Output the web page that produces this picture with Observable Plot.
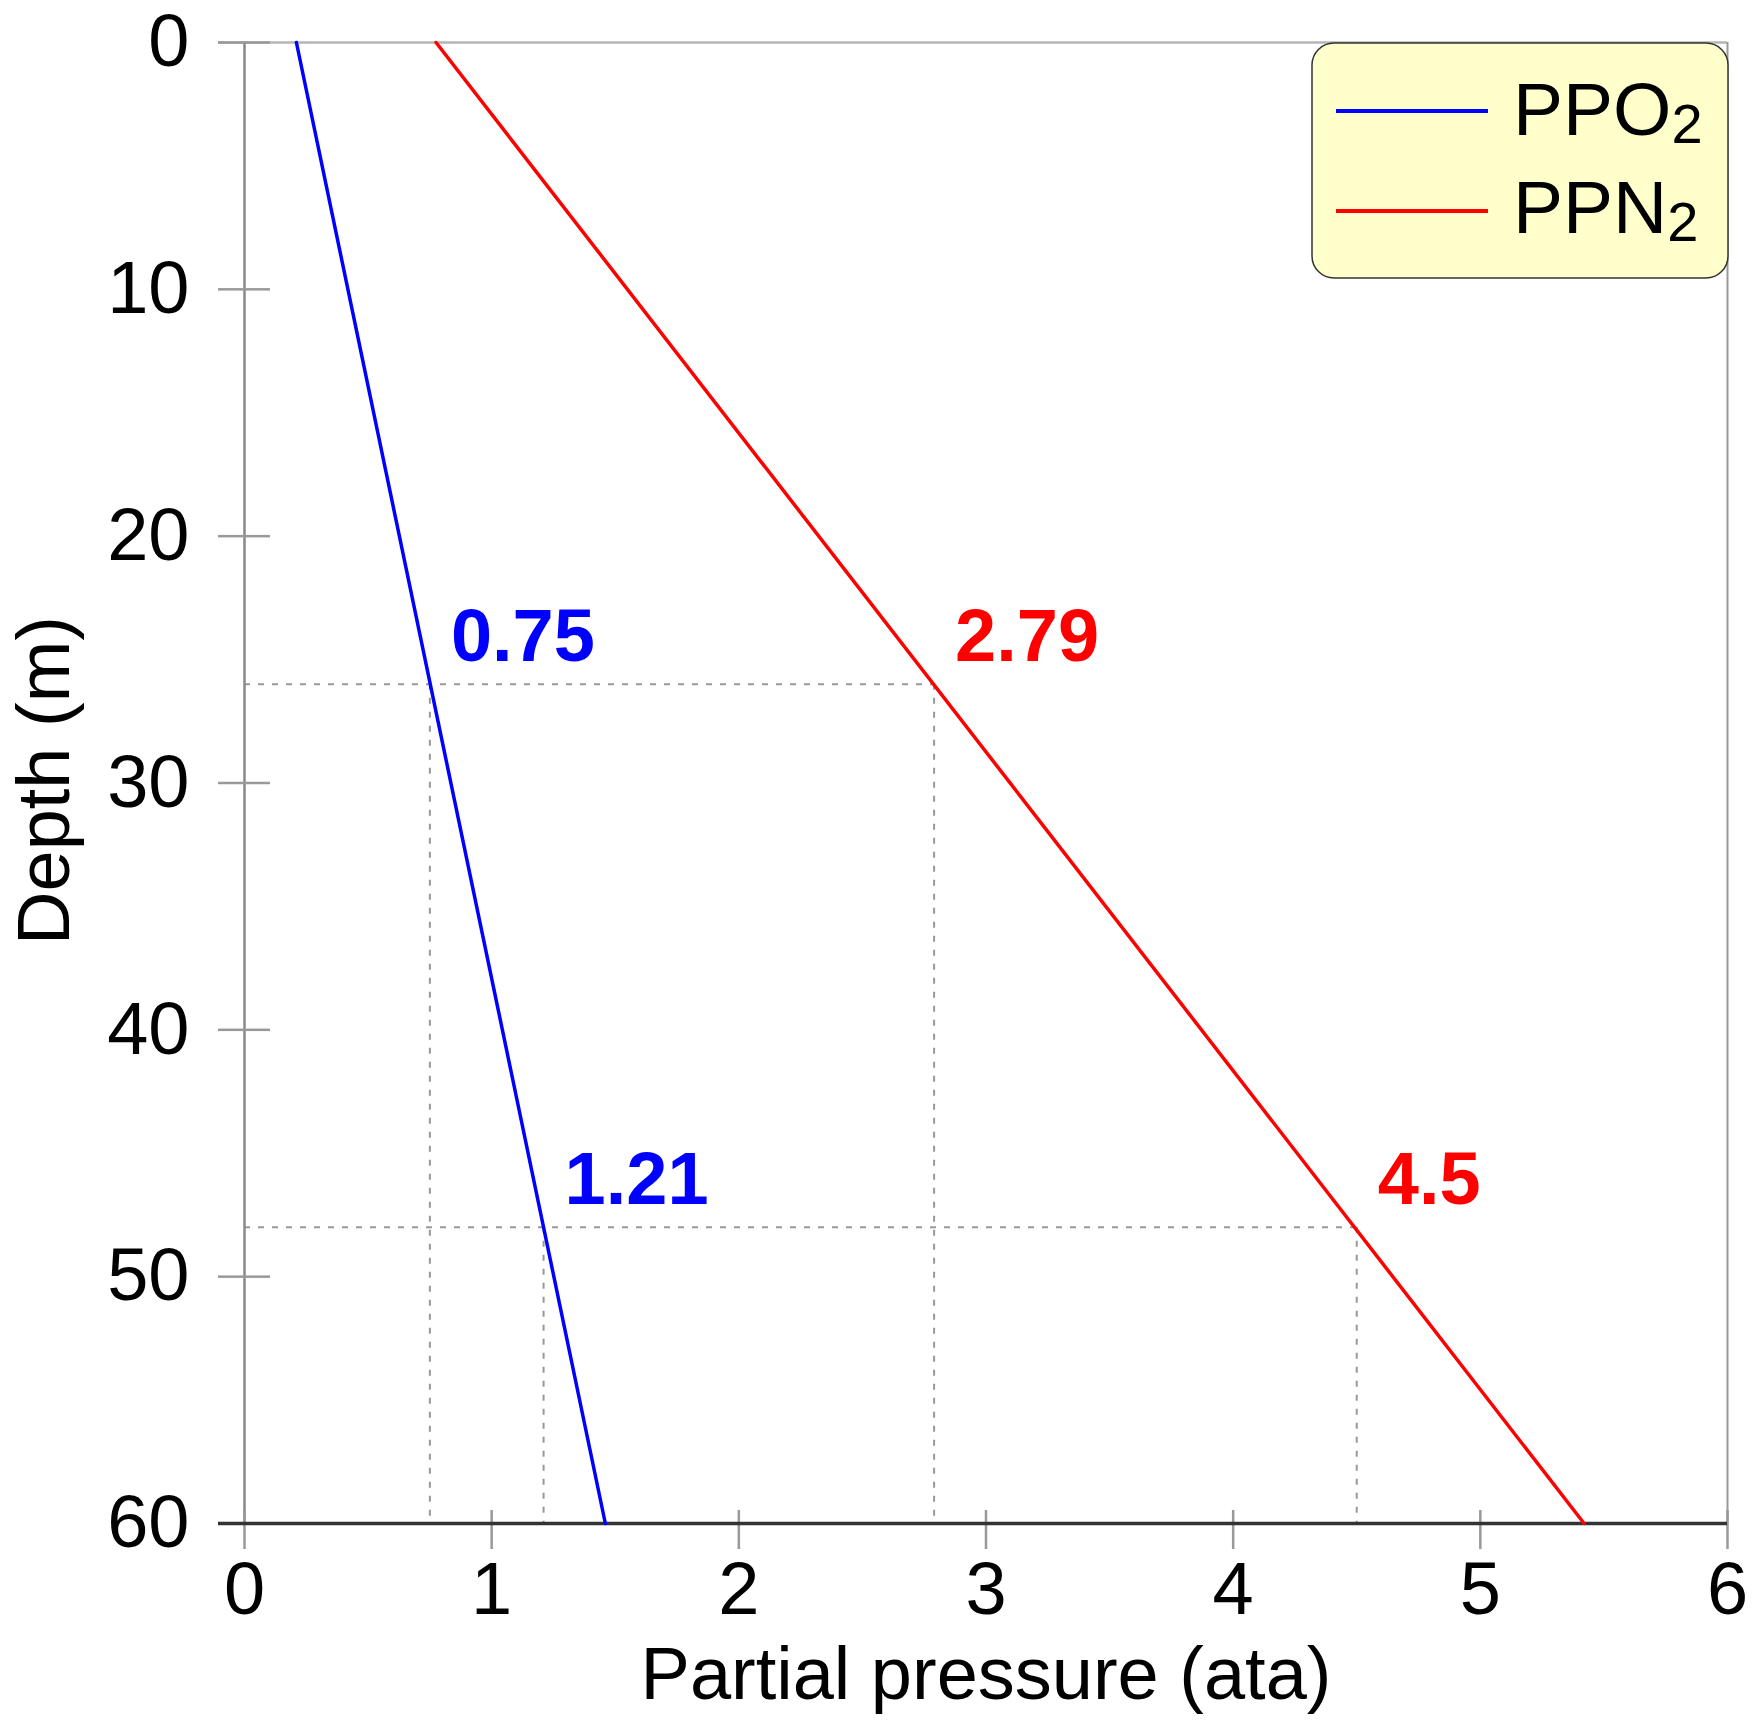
<!DOCTYPE html>
<html>
<head>
<meta charset="utf-8">
<script src="https://cdn.jsdelivr.net/npm/d3@7"></script>
<script src="https://cdn.jsdelivr.net/npm/@observablehq/plot@0.6"></script>
<style>
  html, body { margin: 0; padding: 0; background: white; }
  #wrap { position: relative; width: 1762px; height: 1730px; }
  #legend { position: absolute; left: 1311px; top: 42px; }
</style>
</head>
<body>
<div id="wrap"></div>
<script>
// ---- data ----
const depthEnds = [0, 60];          // m
const ppo2Ends = [0.21, 1.46];      // ata
const ppn2Ends = [0.775, 5.42];     // ata
const markDepths = [26, 48];        // m
const markO2 = [0.75, 1.21];
const markN2 = [2.79, 4.5];
const markO2Text = ["0.75", "1.21"];
const markN2Text = ["2.79", "4.5"];
const xTicks = [0, 1, 2, 3, 4, 5, 6];
const yTicks = [0, 10, 20, 30, 40, 50, 60];
const seriesNames = ["PPO", "PPN"];
const seriesColors = ["#0000ff", "#ff0000"];

const W = 1762, H = 1730;
const mL = 244, mR = 35, mT = 42, mB = 207;
const frameW = W - mL - mR, frameH = H - mT - mB;
const font = "'Liberation Sans', Arial, Helvetica, sans-serif";

const o2 = depthEnds.map((d, i) => ({depth: d, value: ppo2Ends[i]}));
const n2 = depthEnds.map((d, i) => ({depth: d, value: ppn2Ends[i]}));
const guides = markDepths.map((d, i) => ({depth: d, o2: markO2[i], n2: markN2[i]}));
const vGuides = [
  ...markDepths.map((d, i) => ({depth: d, x: markO2[i]})),
  ...markDepths.map((d, i) => ({depth: d, x: markN2[i]}))
];
const labels = [
  ...markDepths.map((d, i) => ({depth: d, x: markO2[i], text: markO2Text[i], color: seriesColors[0]})),
  ...markDepths.map((d, i) => ({depth: d, x: markN2[i], text: markN2Text[i], color: seriesColors[1]}))
];

const dash = {stroke: "#999", strokeWidth: 2, strokeDasharray: "6,8"};

const chart = Plot.plot({
  width: W,
  height: H,
  marginLeft: mL,
  marginRight: mR,
  marginTop: mT,
  marginBottom: mB,
  style: {fontFamily: font, background: "white", color: "black", overflow: "visible"},
  x: {domain: [0, 6]},
  y: {domain: [0, 60], reverse: true},
  marks: [
    // dashed guides
    Plot.ruleY(guides, {y: "depth", x1: 0, x2: "n2", ...dash}),
    Plot.ruleX(vGuides, {x: "x", y1: "depth", y2: 60, ...dash}),
    // frame lines
    Plot.ruleY([0], {stroke: "#b5b5b5", strokeWidth: 2.5, insetLeft: -26}),
    Plot.ruleX([6], {stroke: "#999", strokeWidth: 2}),
    Plot.ruleX([0], {stroke: "#888", strokeWidth: 2.5}),
    // inside tick parts
    Plot.tickX(xTicks, {x: d => d, insetTop: frameH - 13, stroke: "#999", strokeWidth: 2.5}),
    Plot.tickY(yTicks, {y: d => d, insetRight: frameW - 26, stroke: "#999", strokeWidth: 2.5}),
    // axes
    Plot.axisX({ticks: xTicks, tickSize: 26, tickPadding: 11.5, fontSize: 74, stroke: "#999", strokeWidth: 2.5, fill: "black", label: null, tickFormat: d => String(d)}),
    Plot.axisY({ticks: yTicks, tickSize: 26, tickPadding: 29, fontSize: 74, stroke: "#999", strokeWidth: 2.5, fill: "black", label: null, tickFormat: d => String(d)}),
    Plot.ruleY([60], {stroke: "#333", strokeWidth: 3.5, insetLeft: -26}),
    // series lines
    Plot.line(o2, {x: "value", y: "depth", stroke: seriesColors[0], strokeWidth: 3.5}),
    Plot.line(n2, {x: "value", y: "depth", stroke: seriesColors[1], strokeWidth: 3.5}),
    // value labels
    Plot.text(labels, {x: "x", y: "depth", text: "text", fill: "color", textAnchor: "start", lineAnchor: "bottom", dx: 21, dy: -23, fontSize: 74, fontWeight: "bold"}),
    // axis titles
    Plot.text(["Partial pressure (ata)"], {frameAnchor: "bottom", textAnchor: "middle", lineAnchor: "bottom", dy: 175, fontSize: 74, fill: "black"}),
    Plot.text(["Depth (m)"], {frameAnchor: "left", textAnchor: "middle", rotate: -90, lineAnchor: "bottom", dx: -176, dy: -2.5, fontSize: 74, fill: "black"})
  ]
});

const wrap = document.getElementById("wrap");
wrap.appendChild(chart);

// legend (rounded light-yellow box)
const lg = d3.select(wrap).append("svg")
  .attr("id", "legend")
  .attr("width", 420).attr("height", 240)
  .style("font-family", font);
lg.append("rect")
  .attr("x", 1).attr("y", 1).attr("width", 416).attr("height", 235)
  .attr("rx", 22).attr("ry", 22)
  .attr("fill", "#ffffcc").attr("stroke", "#333").attr("stroke-width", 1.5);
seriesNames.forEach((name, i) => {
  lg.append("line")
    .attr("x1", 25).attr("x2", 177)
    .attr("y1", 69 + i * 100).attr("y2", 69 + i * 100)
    .attr("stroke", seriesColors[i]).attr("stroke-width", 4);
  const t = lg.append("text")
    .attr("x", 202).attr("y", 93 + i * 98)
    .attr("font-size", 75).attr("fill", "black");
  t.append("tspan").text(name);
  t.append("tspan").attr("font-size", 56).attr("dy", 8).text("2");
});
</script>
</body>
</html>
